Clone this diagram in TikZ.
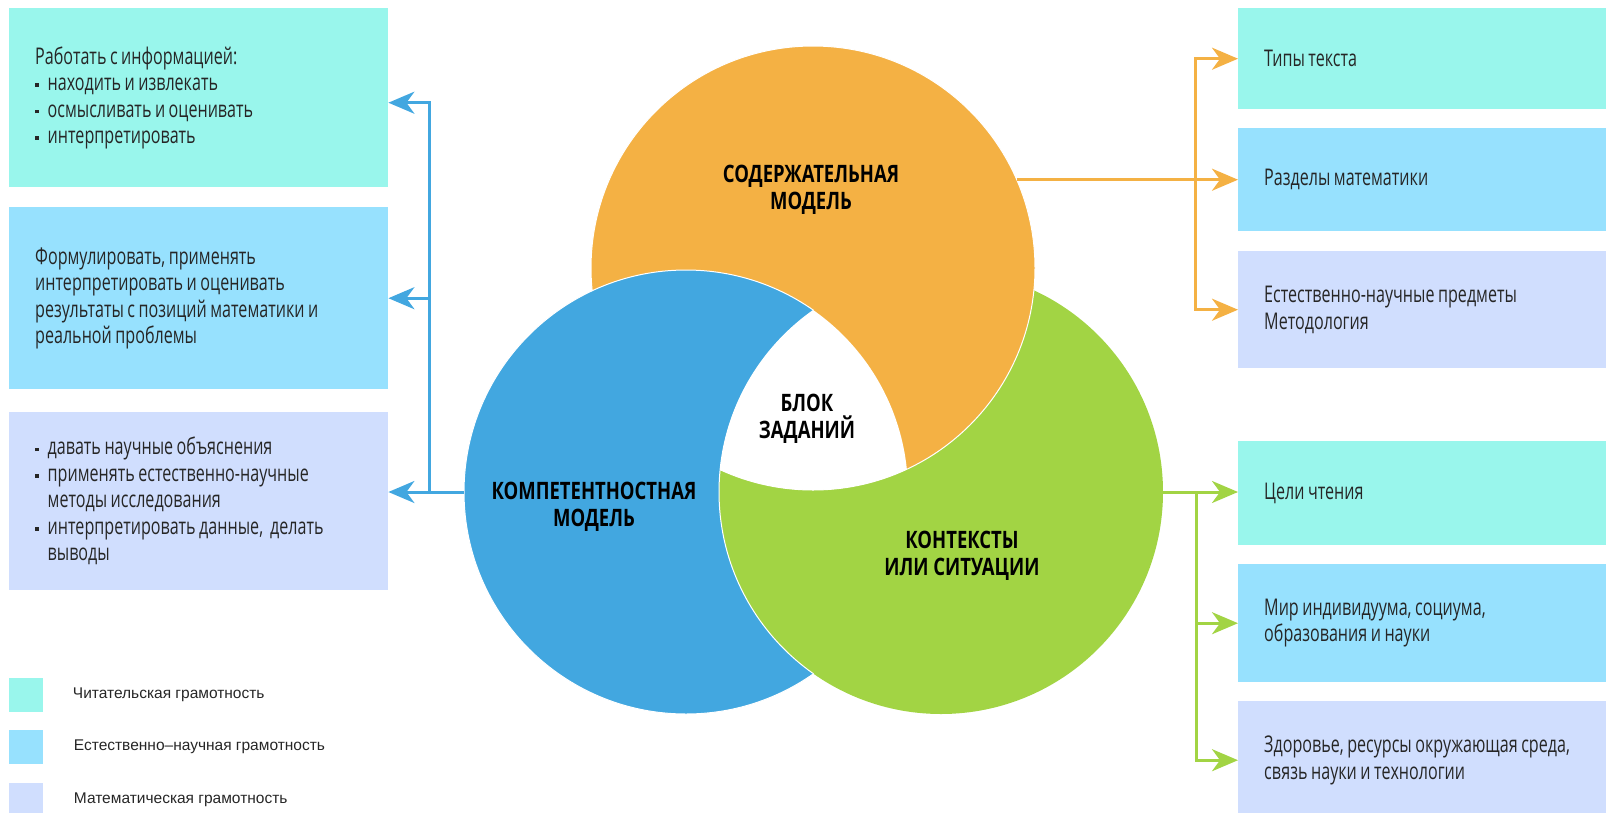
\documentclass[tikz,border=0pt]{standalone}
\usepackage{fontspec}
\setmainfont[FakeStretch=0.70]{Open Sans}
\newfontfamily\titlefont[FakeStretch=0.77]{Open Sans}
\newfontfamily\legfont{Liberation Sans}
\usetikzlibrary{arrows.meta,positioning}
\definecolor{cread}{HTML}{99F6EC}
\definecolor{csci}{HTML}{97E1FE}
\definecolor{cmath}{HTML}{D0DEFE}
\definecolor{corange}{HTML}{F4B144}
\definecolor{cblue}{HTML}{42A7E0}
\definecolor{cgreen}{HTML}{A2D444}
\newcommand{\sqb}{\raisebox{0.3ex}{\rule{3.5pt}{3.5pt}}\hspace{9pt}}
\newcommand{\sqi}{\hspace*{12.5pt}}
\newcommand{\bodyfont}{\fontsize{23}{26.5}\selectfont}
\newcommand{\headfont}{\titlefont\bfseries\fontsize{24}{27}\selectfont}
\tikzset{
  infobox/.style={anchor=north west, inner xsep=26pt, inner ysep=0pt, align=left,
    font=\bodyfont, text=black!85, execute at begin node={\spaceskip 3.5pt plus 1pt minus 0.5pt\relax}},
  lbox/.style={infobox, text width=327pt},
  rbox/.style={infobox, text width=340pt},
  disc/.style={circle, minimum size=444pt, inner sep=0pt, outer sep=0pt},
  ctitle/.style={align=center, font=\headfont},
  arr/.style={line width=3pt, -{Stealth[length=26pt,width=22pt,inset=8pt]}},
  legsq/.style={anchor=north west, minimum size=34pt, inner sep=0pt},
  legtext/.style={anchor=west, font=\legfont\fontsize{15.5}{18}\selectfont, text=black!85}
}
\begin{document}
\begin{tikzpicture}[x=1pt,y=-1pt]
\useasboundingbox (0,0) rectangle (1606,812);
\node[disc, fill=cgreen] (green) at (941,492) {};
\node[disc, fill=corange, draw=white, line width=1pt] (orange) at (813,268) {};
\node[disc] (blue) at (686,492) {};
\begin{scope}[even odd rule]
\clip (0,0) rectangle (1606,812) (green.center) circle (222pt);
\filldraw[fill=cblue, draw=white, line width=1pt] (blue.center) circle (222pt);
\end{scope}
\begin{scope}
\clip (blue.center) circle (222pt);
\draw[white, line width=1pt] (green.center) circle (222pt);
\clip (green.center) circle (222pt);
\fill[white] (orange.center) circle (222pt);
\end{scope}
\node[ctitle] (tOrange) at (811,190) {СОДЕРЖАТЕЛЬНАЯ\\МОДЕЛЬ};
\node[ctitle] (tCore) at (807,419) {БЛОК\\ЗАДАНИЙ};
\node[ctitle] (tBlue) at (594,507) {КОМПЕТЕНТНОСТНАЯ\\МОДЕЛЬ};
\node[ctitle] (tGreen) at (962,556) {КОНТЕКСТЫ\\ИЛИ СИТУАЦИИ};

\node[lbox, fill=cread, minimum height=179pt] (kInfo) at (9,8) {Работать с информацией:\\\sqb находить и извлекать\\\sqb осмысливать и оценивать\\\sqb интерпретировать};
\node[lbox, fill=csci, minimum height=182pt] (kMath) at (9,207) {Формулировать, применять\\интерпретировать и оценивать\\результаты с позиций математики и\\реальной проблемы};
\node[lbox, fill=cmath, minimum height=178pt] (kSci) at (9,412) {\sqb давать научные объяснения\\\sqb применять естественно-научные\\\sqi методы исследования\\\sqb интерпретировать данные,\ \ делать\\\sqi выводы};

\node[rbox, fill=cread, minimum height=101pt] (sText) at (1238,8) {Типы текста};
\node[rbox, fill=csci, minimum height=103pt] (sMath) at (1238,128) {Разделы математики};
\node[rbox, fill=cmath, minimum height=117pt] (sSci) at (1238,251) {Естественно-научные предметы\\Методология};

\node[rbox, fill=cread, minimum height=104pt] (cRead) at (1238,441) {Цели чтения};
\node[rbox, fill=csci, minimum height=118pt] (cWorld) at (1238,564) {Мир индивидуума, социума,\\образования и науки};
\node[rbox, fill=cmath, minimum height=118pt] (cHealth) at (1238,701) {Здоровье, ресурсы окружающая среда,\\связь науки и технологии};

\coordinate (kCol) at (429,0);
\coordinate (kJoin) at (kCol |- blue.west);
\draw[arr, cblue] (blue.west) -- (blue.west -| kSci.east);
\draw[arr, cblue] (kJoin) |- (kMath.east);
\draw[arr, cblue] (kJoin) |- ([yshift=-5pt]kInfo.east);

\coordinate (sCol) at (1195,0);
\coordinate (sJoin) at (sCol |- sMath.west);
\draw[arr, corange] (orange.23 |- sMath.west) -- (sMath.west);
\draw[arr, corange] (sJoin) |- (sText.west);
\draw[arr, corange] (sJoin) |- (sSci.west);

\coordinate (cCol) at (1196,0);
\coordinate (cJoin) at (cCol |- green.east);
\draw[arr, cgreen] (green.east) -- (green.east -| cRead.west);
\draw[arr, cgreen] (cJoin) |- (cWorld.west);
\draw[arr, cgreen] (cJoin) |- (cHealth.west);

\node[legsq, fill=cread] (qRead) at (9,678) {};
\node[legsq, fill=csci] (qSci) at (9,730) {};
\node[legsq, fill=cmath] (qMath) at (9,783) {};
\node[legtext, right=26pt of qRead] (lRead) {Читательская грамотность};
\node[legtext, right=27pt of qSci] (lSci) {Естественно–научная грамотность};
\node[legtext, right=27pt of qMath] (lMath) {Математическая грамотность};
\end{tikzpicture}
\end{document}
